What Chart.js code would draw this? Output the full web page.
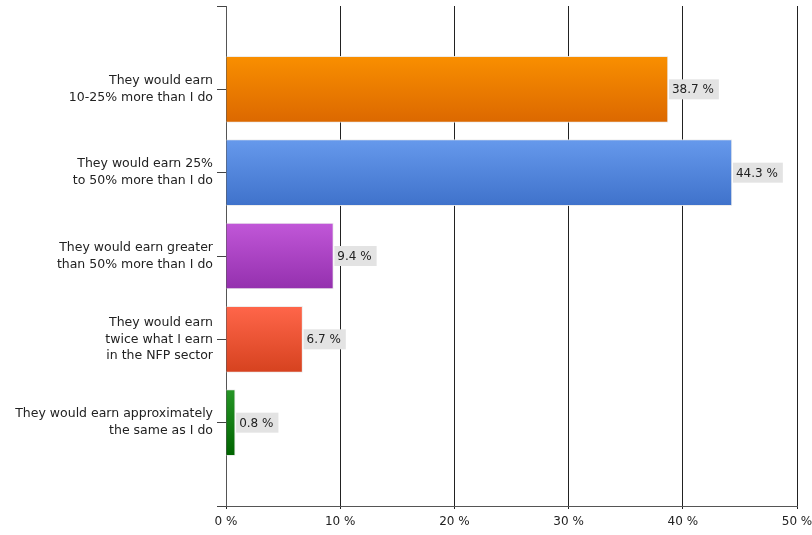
<!DOCTYPE html>
<html>
<head>
<meta charset="utf-8">
<script src="https://cdn.jsdelivr.net/npm/chart.js@4"></script>
<style>
  html, body { margin: 0; padding: 0; background: #fff; }
  #wrap { width: 812px; height: 535px; position: relative; }
</style>
</head>
<body>
<div id="wrap"><canvas id="mainChart"></canvas></div>
<script>
// Donnees
const categories = [
    ['They would earn', '10-25% more than I do'],
    ['They would earn 25%', 'to 50% more than I do'],
    ['They would earn greater', 'than 50% more than I do'],
    ['They would earn', 'twice what I earn', 'in the NFP sector'],
    ['They would earn approximately', 'the same as I do']
];
const values = [38.7, 44.3, 9.4, 6.7, 0.8];
const xTicks = [0, 10, 20, 30, 40, 50];
const topColors = ['#f98f00', '#6699ec', '#c157d8', '#ff664a', '#269626'];
const bottomColors = ['#dc6800', '#3f72cb', '#9430ae', '#d6421f', '#006400'];

// une case vide en haut et en bas pour l'espacement
const paddedLabels = [''].concat(categories, ['']);
const paddedValues = [null].concat(values, [null]);

const FONT = 'DejaVu Sans';
const BAR = 66;

function barGradient(ctx) {
    const i = ctx.dataIndex - 1;
    const chart = ctx.chart;
    if (i < 0 || i >= values.length) return '#ccc';
    if (!chart.chartArea || !chart.scales.y) return topColors[i];
    const y = chart.scales.y.getPixelForValue(ctx.dataIndex);
    const g = chart.ctx.createLinearGradient(0, y - BAR / 2, 0, y + BAR / 2);
    g.addColorStop(0, topColors[i]);
    g.addColorStop(1, bottomColors[i]);
    return g;
}

const valueLabelPlugin = {
    id: 'valueLabels',
    afterDatasetsDraw(chart) {
        const c = chart.ctx;
        const meta = chart.getDatasetMeta(0);
        c.save();
        c.font = '12px "' + FONT + '"';
        c.textBaseline = 'middle';
        meta.data.forEach((bar, idx) => {
            const v = paddedValues[idx];
            if (v === null) return;
            const txt = v.toFixed(1) + ' %';
            const w = c.measureText(txt).width + 8;
            c.fillStyle = '#e3e3e3';
            c.fillRect(bar.x + 1, bar.y - 10, w, 20);
            c.fillStyle = '#222';
            c.fillText(txt, bar.x + 4, bar.y + 1);
        });
        c.restore();
    }
};

let chart;

function initChart() {
    const ctx = document.getElementById('mainChart').getContext('2d');
    chart = new Chart(ctx, {
        type: 'bar',
        data: {
            labels: paddedLabels,
            datasets: [{
                data: paddedValues,
                backgroundColor: barGradient,
                borderColor: 'rgba(235, 235, 235, 0.9)',
                borderWidth: 1,
                barThickness: BAR
            }]
        },
        options: {
            indexAxis: 'y',
            responsive: true,
            maintainAspectRatio: false,
            animation: false,
            layout: { padding: 0 },
            plugins: {
                legend: { display: false },
                tooltip: { enabled: false }
            },
            scales: {
                x: {
                    min: 0,
                    max: 50,
                    afterBuildTicks: (scale) => {
                        scale.ticks = xTicks.map(v => ({ value: v }));
                    },
                    afterFit: (scale) => {
                        scale.height = 29;
                        scale.paddingLeft = 0;
                        scale.paddingRight = 15;
                    },
                    grid: {
                        color: '#222',
                        lineWidth: 1,
                        drawTicks: true,
                        tickLength: 3
                    },
                    border: { color: '#555', width: 1 },
                    ticks: {
                        color: '#222',
                        padding: 6,
                        maxRotation: 0,
                        font: { family: FONT, size: 12 },
                        callback: (v) => v + ' %'
                    }
                },
                y: {
                    type: 'category',
                    offset: false,
                    afterFit: (scale) => {
                        scale.width = 226;
                        scale.paddingTop = 6;
                        scale.paddingBottom = 0;
                    },
                    grid: {
                        offset: false,
                        drawOnChartArea: false,
                        drawTicks: true,
                        tickLength: 9,
                        color: '#444'
                    },
                    border: { color: '#555', width: 1 },
                    ticks: {
                        color: '#222',
                        padding: 4,
                        autoSkip: false,
                        font: { family: FONT, size: 12.5, lineHeight: 1.35 }
                    }
                }
            }
        },
        plugins: [valueLabelPlugin]
    });
}

initChart();
</script>
</body>
</html>
